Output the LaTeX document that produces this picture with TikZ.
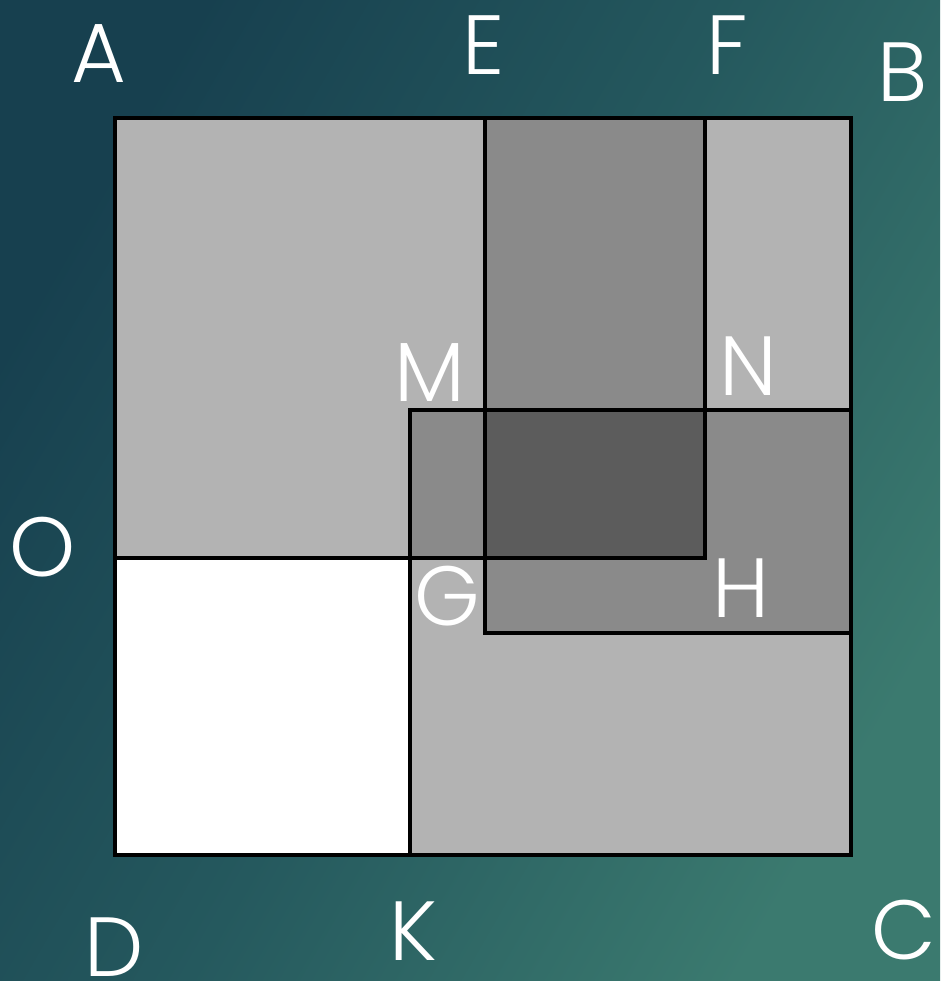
\documentclass[tikz,border=0pt]{standalone}
\usepackage{fontspec}
\setmainfont{Poppins Light}
\definecolor{bgdark}{HTML}{17404F}
\definecolor{bgmid}{HTML}{25595E}
\definecolor{bglight}{HTML}{3B7A6F}
\definecolor{lightg}{HTML}{B3B3B3}
\definecolor{midg}{HTML}{8A8A8A}
\definecolor{darkg}{HTML}{5C5C5C}
\tikzset{
  lbl/.style={text=white, anchor=base, inner sep=0pt, text depth=0pt, font=\fontsize{84}{84}\selectfont},
  edge/.style={line width=3.5pt, draw=black}
}
\begin{document}
\begin{tikzpicture}[x=1pt,y=-1pt]
\useasboundingbox (0,0) rectangle (940,981);
\shade[left color=bgdark, right color=bglight, middle color=bgmid, shading angle=60] (0,0) rectangle (940,981);
% fills
\fill[lightg] (115,118) rectangle (851,855);
\fill[white] (115,558) rectangle (410,855);
\fill[midg] (485,118) rectangle (705,410);
\fill[midg] (410,410) rectangle (485,558);
\fill[darkg] (485,410) rectangle (705,558);
\fill[midg] (705,410) rectangle (851,633);
\fill[midg] (485,558) rectangle (705,633);
% corner coordinates
\coordinate (pA) at (115,118);
\coordinate (pB) at (851,118);
\coordinate (pC) at (851,855);
\coordinate (pD) at (115,855);
\coordinate (pE) at (485,118);
\coordinate (pF) at (705,118);
\coordinate (pO) at (115,558);
\coordinate (pK) at (410,855);
\coordinate (pM) at (410,410);
\coordinate (pN) at (851,410);
\coordinate (pG) at (485,633);
\coordinate (pH) at (851,633);
\coordinate (pX) at (705,558);
% lines
\draw[edge] (pO) -- (pX) -- (pF);
\draw[edge] (pE) -- (pG) -- (pH);
\draw[edge] (pK) -- (pM) -- (pN);
\draw[edge] (pA) rectangle (pC);
% labels
\node[lbl] (A) at (99,83) {A};
\node[lbl] (E) at (484,75) {E};
\node[lbl] (F) at (727,75) {F};
\node[lbl] (B) at (903,102) {B};
\node[lbl] (O) at (43,576) {O};
\node[lbl] (M) at (430,401) {M};
\node[lbl] (N) at (748,395) {N};
\node[lbl] (G) at (447,625) {G};
\node[lbl] (H) at (741,617) {H};
\node[lbl] (D) at (114,976) {D};
\node[lbl] (K) at (413,960) {K};
\node[lbl] (C) at (904,959) {C};
\end{tikzpicture}
\end{document}
